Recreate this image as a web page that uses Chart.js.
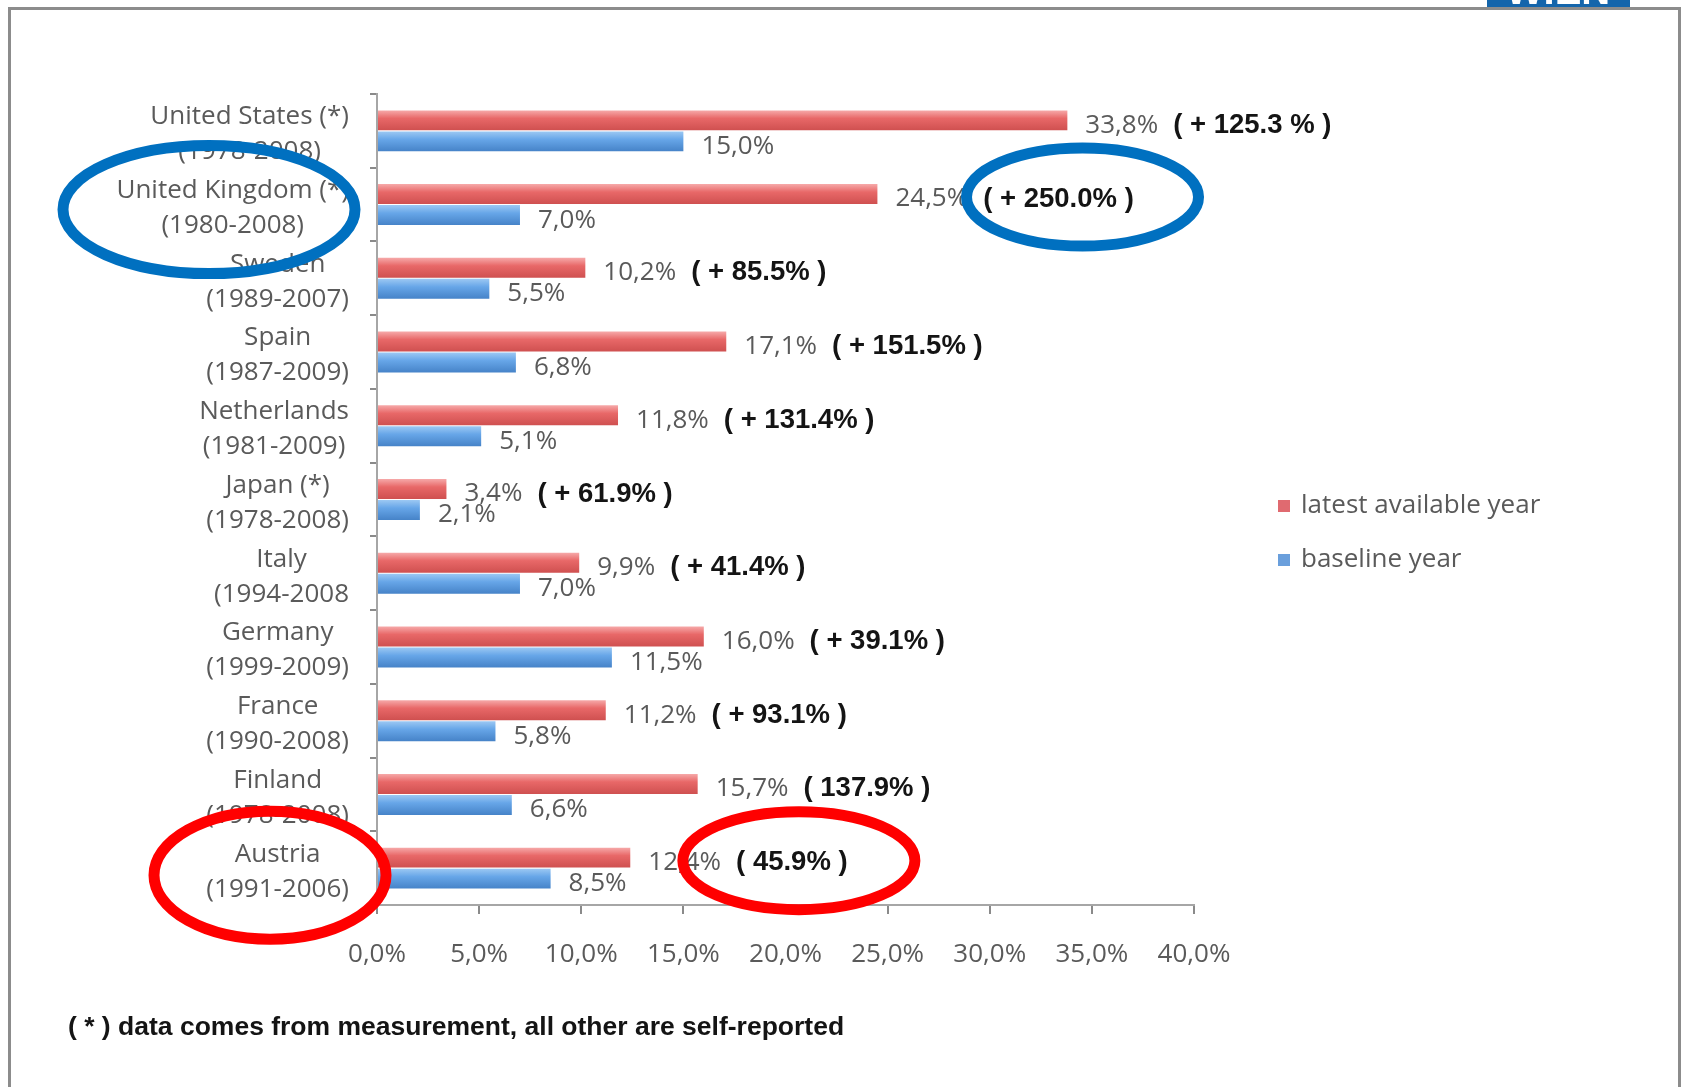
<!DOCTYPE html>
<html>
<head>
<meta charset="utf-8">
<script src="https://cdn.jsdelivr.net/npm/chart.js@4.4.1/dist/chart.umd.min.js"></script>
<style>
  html, body { margin: 0; padding: 0; background: #fff; }
  canvas { display: block; }
</style>
</head>
<body>
<canvas id="obesityChart" width="1684" height="1087"></canvas>
<script>
// data
const countries = ['United States (*)', 'United Kingdom (*)', 'Sweden', 'Spain', 'Netherlands', 'Japan (*)',
    'Italy', 'Germany', 'France', 'Finland', 'Austria'];
const periods = ['(1978-2008)', '(1980-2008)', '(1989-2007)', '(1987-2009)', '(1981-2009)', '(1978-2008)',
    '(1994-2008', '(1999-2009)', '(1990-2008)', '(1978-2008)', '(1991-2006)'];
const latestYear = [33.8, 24.5, 10.2, 17.1, 11.8, 3.4, 9.9, 16.0, 11.2, 15.7, 12.4];
const baselineYear = [15.0, 7.0, 5.5, 6.8, 5.1, 2.1, 7.0, 11.5, 5.8, 6.6, 8.5];
const changes = ['( + 125.3 % )', '( + 250.0% )', '( + 85.5% )', '( + 151.5% )', '( + 131.4% )', '( + 61.9% )',
    '( + 41.4% )', '( + 39.1% )', '( + 93.1% )', '( 137.9% )', '( 45.9% )'];
const seriesNames = ['latest available year', 'baseline year'];
const footnote = '( * ) data comes from measurement, all other are self-reported';

const labels = countries.map((c, i) => [c, periods[i]]);

// look
const grey = '#5a5a5a';
const textFont = '26px "Open Sans"';
const boldFont = 'bold 27.5px "Liberation Sans", Arial';
const catPct = 0.57;
const barPct = 0.95;

const fmt = v => v.toFixed(1).replace('.', ',') + '%';

// Excel-ish shaded bars, gradient per bar from the y scale
function shaded(base, light, dark) {
    return (c) => {
        const chart = c.chart;
        const y = chart.scales && chart.scales.y;
        if (!y || !chart.chartArea || c.dataIndex === undefined) return base;
        const band = (y.bottom - y.top) / labels.length;
        const group = band * catPct;
        const size = group / 2 * barPct;
        const mid = y.getPixelForValue(c.dataIndex) + (c.datasetIndex === 0 ? -group / 4 : group / 4);
        const g = chart.ctx.createLinearGradient(0, mid - size / 2, 0, mid + size / 2);
        g.addColorStop(0, light);
        g.addColorStop(0.4, base);
        g.addColorStop(1, dark);
        return g;
    };
}

// circles drawn on the screenshot
const circled = [
    { index: 1, target: 'label', color: '#0070C0', dx: -140, dy: 5, rx: 146, ry: 64 },
    { index: 1, target: 'change', color: '#0070C0', dx: 24, dy: -2, rx: 116, ry: 49 },
    { index: 10, target: 'label', color: '#FF0000', dx: -79, dy: 7, rx: 116, ry: 64 },
    { index: 10, target: 'change', color: '#FF0000', dx: 7, dy: -2, rx: 116, ry: 49 },
];

const changePos = [];

const pageFrame = {
    id: 'pageFrame',
    beforeDraw(chart) {
        const { ctx } = chart;
        ctx.save();
        ctx.fillStyle = '#fff';
        ctx.fillRect(0, 0, chart.width, chart.height);
        // logo scrap on top
        ctx.fillStyle = '#1465ab';
        ctx.beginPath();
        ctx.rect(1487, 0, 143, 7);
        ctx.fill();
        ctx.clip();
        ctx.fillStyle = '#fff';
        ctx.font = 'bold 40px "Liberation Sans"';
        ctx.textAlign = 'center';
        ctx.textBaseline = 'alphabetic';
        ctx.fillText('WIEN', 1558, 4);
        ctx.restore();

        ctx.save();
        ctx.strokeStyle = '#8c8c8c';
        ctx.lineWidth = 3;
        ctx.strokeRect(9.5, 8.5, 1670, 1100);
        ctx.restore();
    }
};

// category label with its period centred underneath, block right aligned
const twoLineLabels = {
    id: 'twoLineLabels',
    afterDraw(chart) {
        const { ctx, scales: { y } } = chart;
        ctx.save();
        ctx.font = textFont;
        ctx.fillStyle = grey;
        ctx.textAlign = 'center';
        ctx.textBaseline = 'middle';
        const right = y.right - 28;
        labels.forEach((lines, i) => {
            const w = Math.max(...lines.map(t => ctx.measureText(t).width));
            const cy = y.getPixelForValue(i);
            lines.forEach((t, k) => ctx.fillText(t, right - w / 2, cy - 14 + k * 35));
        });
        ctx.restore();
    }
};

const barLabels = {
    id: 'barLabels',
    afterDatasetsDraw(chart) {
        const { ctx } = chart;
        ctx.save();
        ctx.textBaseline = 'middle';
        ctx.textAlign = 'left';
        chart.getDatasetMeta(0).data.forEach((bar, i) => {
            const txt = fmt(latestYear[i]);
            ctx.font = textFont;
            ctx.fillStyle = grey;
            const x = bar.x + 18;
            ctx.fillText(txt, x, bar.y + 5);
            const w = ctx.measureText(txt).width;
            ctx.font = boldFont;
            ctx.fillStyle = '#141414';
            const cx = x + w + 15;
            ctx.fillText(changes[i], cx, bar.y + 5);
            changePos[i] = { x: cx + ctx.measureText(changes[i]).width / 2, y: bar.y + 5 };
        });
        chart.getDatasetMeta(1).data.forEach((bar, i) => {
            ctx.font = textFont;
            ctx.fillStyle = grey;
            ctx.fillText(fmt(baselineYear[i]), bar.x + 18, bar.y + 5);
        });
        ctx.restore();
    }
};

const extras = {
    id: 'extras',
    afterDraw(chart) {
        const { ctx, scales: { y } } = chart;
        ctx.save();
        // legend
        ctx.font = textFont;
        ctx.textBaseline = 'middle';
        chart.data.datasets.forEach((ds, i) => {
            const ly = 506 + i * 54;
            ctx.fillStyle = ds.legendColor;
            ctx.fillRect(1278, ly - 6, 12, 12);
            ctx.fillStyle = grey;
            ctx.fillText(ds.label, 1301, ly);
        });
        // footnote
        ctx.font = 'bold 26.5px "Liberation Sans", Arial';
        ctx.fillStyle = '#141414';
        ctx.fillText(footnote, 68, 1028);

        // circles
        ctx.lineWidth = 11;
        circled.forEach(c => {
            let ax, ay;
            if (c.target === 'label') {
                ax = y.right - 28;
                ay = y.getPixelForValue(c.index);
            } else {
                ax = changePos[c.index].x;
                ay = changePos[c.index].y;
            }
            ctx.strokeStyle = c.color;
            ctx.beginPath();
            ctx.ellipse(ax + c.dx, ay + c.dy, c.rx, c.ry, 0, 0, Math.PI * 2);
            ctx.stroke();
        });
        ctx.restore();
    }
};

new Chart(document.getElementById('obesityChart'), {
    type: 'bar',
    data: {
        labels: labels,
        datasets: [
            {
                label: seriesNames[0],
                data: latestYear,
                backgroundColor: shaded('#e86868', '#f6a9a9', '#cf5050'),
                legendColor: '#e06a70',
                categoryPercentage: catPct,
                barPercentage: barPct
            },
            {
                label: seriesNames[1],
                data: baselineYear,
                backgroundColor: shaded('#67a6e8', '#9cc8f3', '#4683c8'),
                legendColor: '#6a9fdc',
                categoryPercentage: catPct,
                barPercentage: barPct
            }
        ]
    },
    options: {
        indexAxis: 'y',
        responsive: false,
        animation: false,
        layout: { padding: { top: 94, right: 490, bottom: 112, left: 0 } },
        plugins: {
            legend: { display: false },
            tooltip: { enabled: false }
        },
        scales: {
            x: {
                min: 0,
                max: 40,
                ticks: {
                    stepSize: 5,
                    padding: 25,
                    color: grey,
                    font: { family: 'Open Sans', size: 26 },
                    callback: v => fmt(v)
                },
                grid: { drawOnChartArea: false, tickLength: 9, color: '#8a8a8a', lineWidth: 2 },
                border: { color: '#a6a6a6', width: 2 },
                afterFit(scale) { scale.height = 70; }
            },
            y: {
                ticks: { display: false },
                grid: { drawOnChartArea: false, tickLength: 7, color: '#8a8a8a', lineWidth: 2 },
                border: { color: '#a6a6a6', width: 2 },
                afterFit(scale) { scale.width = 377; }
            }
        }
    },
    plugins: [pageFrame, barLabels, twoLineLabels, extras]
});
</script>
</body>
</html>
